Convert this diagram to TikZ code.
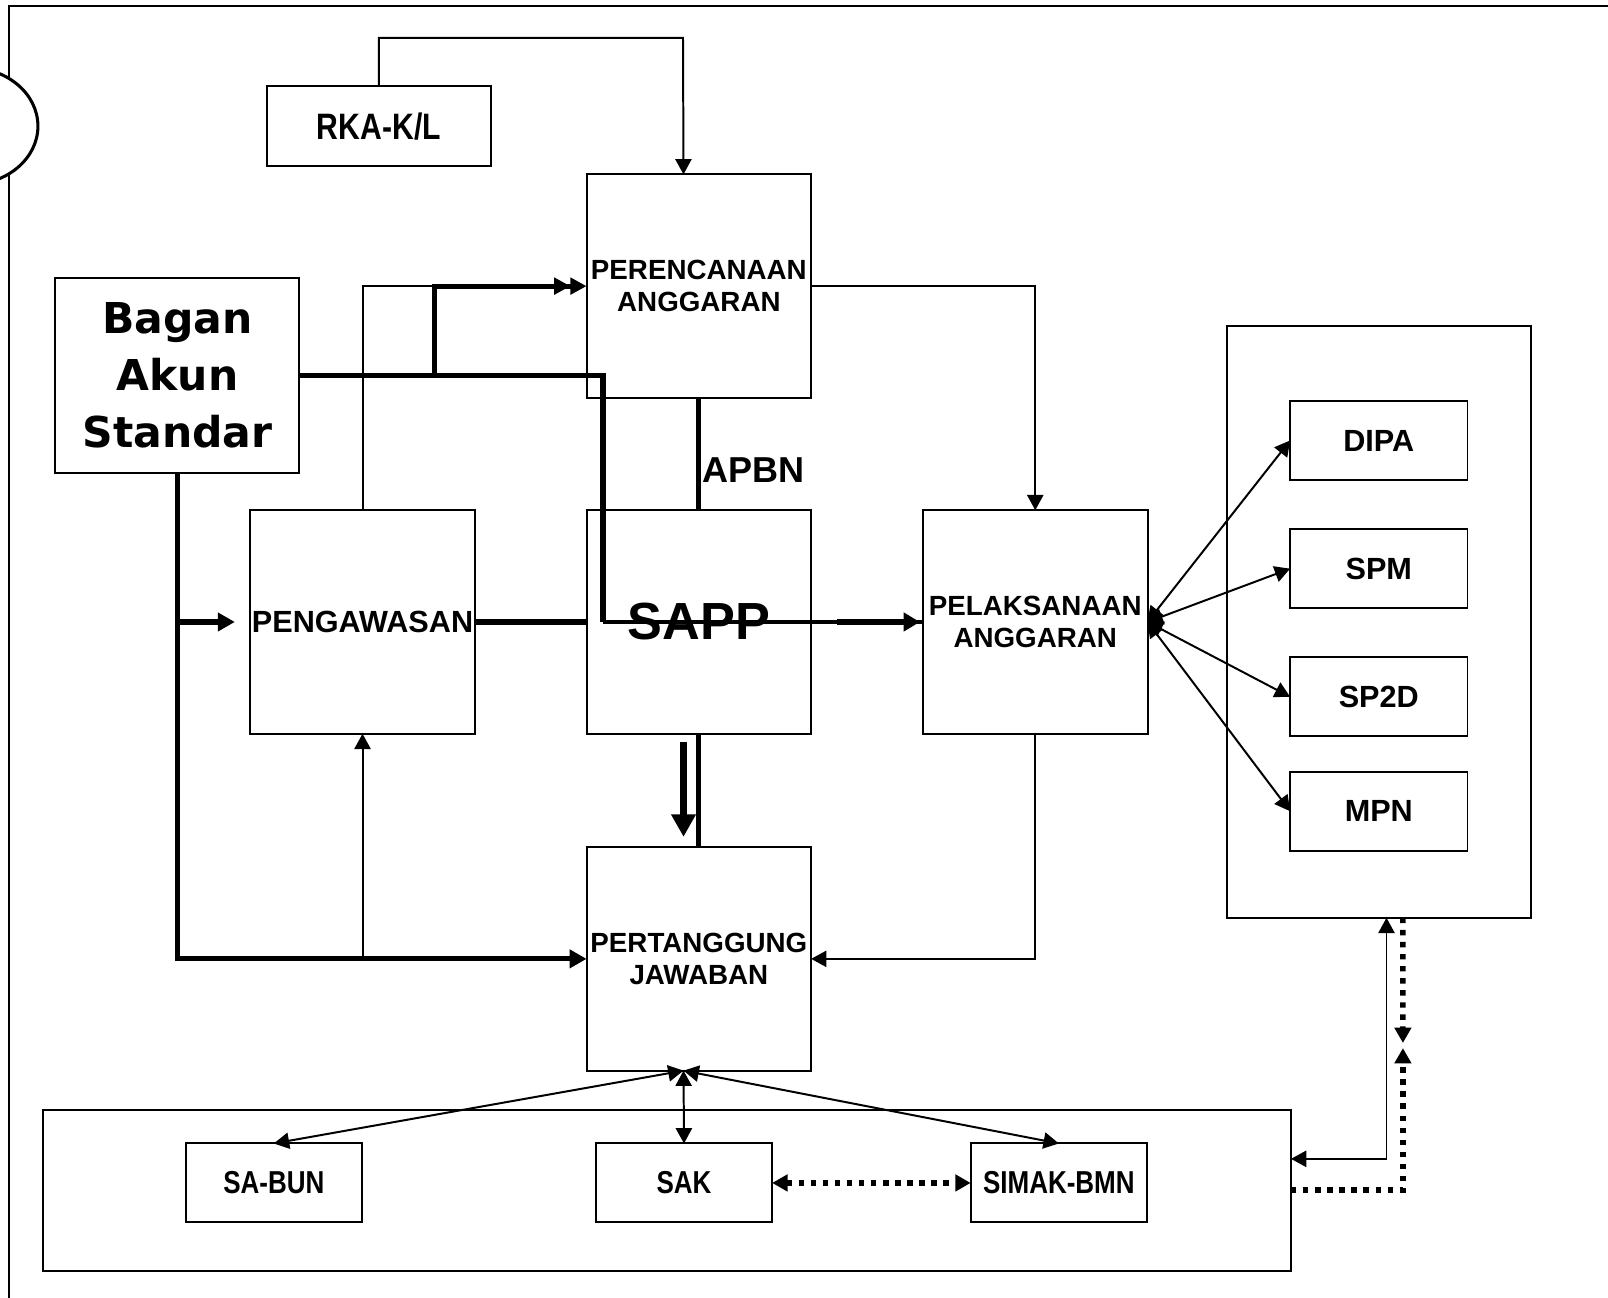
\documentclass[tikz,border=0pt]{standalone}
\usepackage{fontspec}
\setmainfont{Liberation Sans}
\newfontfamily\narrowfont{Liberation Sans}[FakeStretch=0.82]
\newfontfamily\basfont{DejaVu Sans}
\usetikzlibrary{arrows.meta}

\begin{document}
\begin{tikzpicture}[x=0.02cm, y=-0.02cm,
    >={Triangle[length=8.5pt,width=9pt]},
    box/.style={draw, line width=1.1pt, inner sep=0pt, outer sep=0pt, align=center,
        font=\bfseries\fontsize{15.4}{18.1}\selectfont},
    bigbox/.style={box, minimum width=4.38cm, minimum height=4.36cm},
    docbox/.style={box, minimum width=3.46cm, minimum height=1.54cm,
        font=\bfseries\fontsize{17}{20}\selectfont},
    subbox/.style={box, minimum width=3.44cm, minimum height=1.54cm,
        font=\narrowfont\bfseries\fontsize{17.6}{20}\selectfont},
    flow/.style={line width=1.1pt},
    heavy/.style={line width=2.8pt},
    midline/.style={line width=1.9pt},
    dots/.style={line width=3pt, dash pattern=on 3pt off 3.7pt},
    headtip/.style={-{Triangle[length=9.5pt,width=10pt]}},
    fattip/.style={-{Triangle[length=12.5pt,width=13pt]}}
]
    \useasboundingbox (0,0) rectangle (1568,1265);
    \clip (0,0) rectangle (1568,1265);

    \draw[flow] (9,1275) -- (9,6) -- (1580,6);
    \draw[line width=1.7pt, fill=white] (-30,123) ellipse [x radius=1.34cm, y radius=1.14cm];

    \node[draw, line width=1.1pt, inner sep=0pt, outer sep=0pt,
        minimum width=5.94cm, minimum height=11.54cm] (dokumen) at (1344.5,606.5) {};
    \node[draw, line width=1.1pt, inner sep=0pt, outer sep=0pt,
        minimum width=24.34cm, minimum height=3.14cm] (sistem) at (650.5,1160.5) {};

    \node[box, minimum width=4.38cm, minimum height=1.56cm,
        font=\narrowfont\bfseries\fontsize{20.4}{24}\selectfont] (rkakl) at (369.5,123) {RKA-K/L};
    \node[box, minimum width=4.76cm, minimum height=3.8cm,
        font=\basfont\bfseries\fontsize{23.6}{31.5}\selectfont] (bas) at (173,366) {Bagan\\Akun\\Standar};

    \node[bigbox] (perencanaan) at (681.5,279) {PERENCANAAN\\ANGGARAN};
    \node[bigbox, font=\bfseries\fontsize{17}{20}\selectfont] (pengawasan) at (353.5,606.5) {PENGAWASAN};
    \node[bigbox, font=\bfseries\fontsize{29}{34}\selectfont] (sapp) at (681.5,606.5) {SAPP};
    \node[bigbox] (pelaksanaan) at (1009.5,606.5) {PELAKSANAAN\\ANGGARAN};
    \node[bigbox] (pertanggung) at (681.5,935) {PERTANGGUNG\\JAWABAN};

    \node[font=\bfseries\fontsize{20}{24}\selectfont, anchor=west, inner sep=0pt] (apbn) at (685,458) {APBN};

    \node[docbox] (dipa) at (1344.5,429.5) {DIPA};
    \node[docbox] (spm) at (1344.5,554.5) {SPM};
    \node[docbox] (sptd) at (1344.5,679.5) {SP2D};
    \node[docbox] (mpn) at (1344.5,791) {MPN};

    \node[subbox] (sabun) at (267,1153.5) {SA-BUN};
    \node[subbox] (sak) at (667,1153.5) {SAK};
    \node[subbox] (simak) at (1032.5,1153.5) {SIMAK-BMN};

    \coordinate (atas) at (666,37);
    \coordinate (belok) at (588,366);
    \coordinate (cabang) at (424,366);
    \coordinate (temu) at (1368,1019);

    \draw[flow, ->] (rkakl.north) |- (atas) -- ([xshift=-0.3cm]perencanaan.north);
    \draw[flow, ->] (perencanaan.east) -| (pelaksanaan.north);
    \draw[flow, ->] (pelaksanaan.south) |- (pertanggung.east);

    \draw[heavy] (bas.east) -- (belok) -- (belok |- sapp.west);
    \draw[midline] (belok |- sapp.west) -- (pelaksanaan.west);
    \draw[line width=3.4pt, -{Triangle[length=9pt,width=10pt]}] ([xshift=-1.68cm]pelaksanaan.west) -- ([xshift=-0.06cm]pelaksanaan.west);
    \draw[heavy, -{Triangle[length=9pt,width=9pt] Triangle[length=9pt,width=9pt]}] (cabang) |- (perencanaan.west);
    \draw[flow] (pengawasan.north) |- (cabang |- perencanaan.west);

    \draw[heavy, headtip] (bas.south) |- (pertanggung.west);
    \draw[heavy, headtip] (bas.south |- pengawasan.west) -- ([xshift=-0.3cm]pengawasan.west);
    \draw[flow, ->] (pengawasan.south |- pertanggung.west) -- (pengawasan.south);
    \draw[heavy] (pengawasan.east) -- (sapp.west);

    \draw[heavy] (perencanaan.south) -- (sapp.north);
    \draw[heavy] (sapp.south) -- (pertanggung.north);
    \draw[line width=4pt, fattip] ([xshift=-0.3cm,yshift=-0.16cm]sapp.south) -- ([xshift=-0.3cm,yshift=0.2cm]pertanggung.north);

    \foreach \doc in {dipa,spm,sptd,mpn}
        \draw[flow, <->] (pelaksanaan.east) -- (\doc.west);
    \foreach \sub in {sabun,sak,simak}
        \draw[flow, <->] ([xshift=-0.3cm]pertanggung.south) -- (\sub.north);

    \draw[dots, <->] (sak.east) -- (simak.west);
    \draw[flow, <->] ([xshift=0.15cm]dokumen.south) |- ([yshift=0.61cm]sistem.east);
    \draw[dots, ->] ([xshift=0.47cm]dokumen.south) -- ([yshift=0.04cm]temu);
    \draw[dots, ->] (sistem.east) -| ([yshift=-0.06cm]temu);
\end{tikzpicture}
\end{document}
